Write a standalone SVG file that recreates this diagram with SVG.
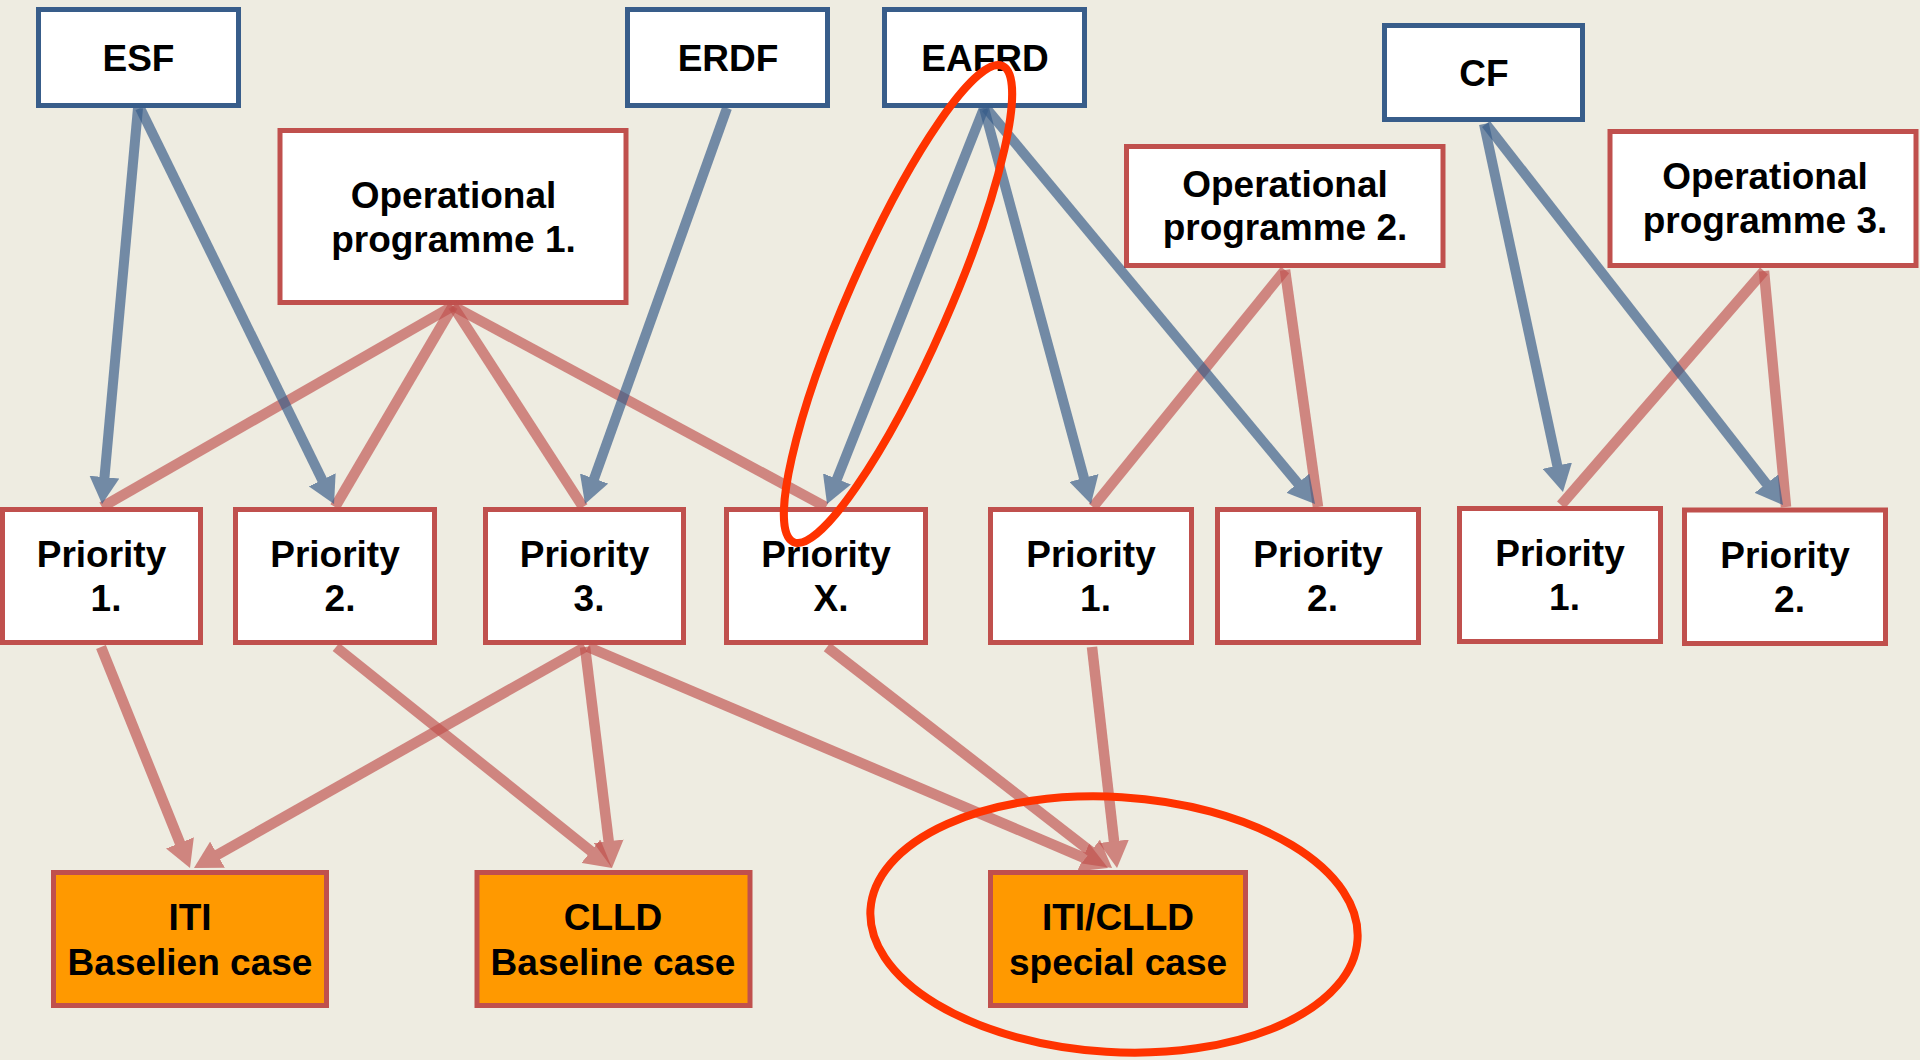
<svg xmlns="http://www.w3.org/2000/svg" width="1920" height="1060" viewBox="0 0 1920 1060">
<defs>
<style>
.fund{fill:#FFFFFF;stroke:#385D8A;stroke-width:5}
.op{fill:#FFFFFF;stroke:#C0504D;stroke-width:5}
.pri{fill:#FFFFFF;stroke:#C0504D;stroke-width:5}
.case{fill:#FF9900;stroke:#C0504D;stroke-width:5}
.t{font-family:"Liberation Sans",Arial,Helvetica,sans-serif;font-weight:bold;font-size:37px;fill:#000000;text-anchor:middle}
.blue{stroke:#385D8A;stroke-width:10;fill:none;opacity:0.68;marker-end:url(#ab)}
.red{stroke:#C0504D;stroke-width:10.5;fill:none;opacity:0.66}
.reda{stroke:#C0504D;stroke-width:10.5;fill:none;opacity:0.66;marker-end:url(#ar)}
.hl{fill:none;stroke:#FF3300;stroke-width:8}
</style>
<marker id="ab" viewBox="0 -15 27 30" refX="1" refY="0" markerUnits="userSpaceOnUse" markerWidth="27" markerHeight="30" orient="auto">
<path d="M0,-15 L27,0 L0,15 z" fill="#385D8A"/>
</marker>
<marker id="ar" viewBox="0 -15 27 30" refX="1" refY="0" markerUnits="userSpaceOnUse" markerWidth="27" markerHeight="30" orient="auto">
<path d="M0,-15 L27,0 L0,15 z" fill="#C0504D"/>
</marker>
</defs>
<rect x="0" y="0" width="1920" height="1060" fill="#EEECE1"/>

<g id="esf"><rect class="fund" x="38.5" y="9.5" width="200" height="96"/><text class="t" x="138.5" y="71">ESF</text></g>
<g id="erdf"><rect class="fund" x="627.5" y="9.5" width="200" height="96"/><text class="t" x="728" y="71">ERDF</text></g>
<g id="eafrd"><rect class="fund" x="884.5" y="9.5" width="200" height="96"/><text class="t" x="985" y="71">EAFRD</text></g>
<g id="cf"><rect class="fund" x="1384.5" y="25.5" width="198" height="94"/><text class="t" x="1484" y="86">CF</text></g>

<g id="op1"><rect class="op" x="280" y="130.5" width="346" height="172"/><text class="t" x="453.5" y="208">Operational</text><text class="t" x="453.5" y="252">programme 1.</text></g>
<g id="op2"><rect class="op" x="1126.5" y="146.5" width="316.5" height="119"/><text class="t" x="1285" y="197">Operational</text><text class="t" x="1285" y="240">programme 2.</text></g>
<g id="op3"><rect class="op" x="1610" y="131.5" width="306" height="134"/><text class="t" x="1765" y="189">Operational</text><text class="t" x="1765" y="233">programme 3.</text></g>

<g id="p1"><rect class="pri" x="2.5" y="509.5" width="198" height="133"/><text class="t" x="101.5" y="567">Priority</text><text class="t" x="106" y="611">1.</text></g>
<g id="p2"><rect class="pri" x="235.5" y="509.5" width="199" height="133"/><text class="t" x="335" y="567">Priority</text><text class="t" x="340" y="611">2.</text></g>
<g id="p3"><rect class="pri" x="485.5" y="509.5" width="198" height="133"/><text class="t" x="584.5" y="567">Priority</text><text class="t" x="589" y="611">3.</text></g>
<g id="px"><rect class="pri" x="726.5" y="509.5" width="199" height="133"/><text class="t" x="826" y="567">Priority</text><text class="t" x="831" y="611">X.</text></g>
<g id="p1b"><rect class="pri" x="990.5" y="509.5" width="201" height="133"/><text class="t" x="1091" y="567">Priority</text><text class="t" x="1095.5" y="611">1.</text></g>
<g id="p2b"><rect class="pri" x="1217.5" y="509.5" width="201" height="133"/><text class="t" x="1318" y="567">Priority</text><text class="t" x="1322.5" y="611">2.</text></g>
<g id="p1c"><rect class="pri" x="1459.5" y="508.5" width="201" height="133"/><text class="t" x="1560" y="566">Priority</text><text class="t" x="1564.5" y="610">1.</text></g>
<g id="p2c"><rect class="pri" x="1684.5" y="510" width="201" height="133.5"/><text class="t" x="1785" y="568">Priority</text><text class="t" x="1789.5" y="612">2.</text></g>

<g id="iti"><rect class="case" x="53.5" y="872.5" width="273" height="133"/><text class="t" x="190" y="930">ITI</text><text class="t" x="190" y="974.5">Baselien case</text></g>
<g id="clld"><rect class="case" x="477" y="872.5" width="273" height="133"/><text class="t" x="613" y="930">CLLD</text><text class="t" x="613" y="974.5">Baseline case</text></g>
<g id="iticlld"><rect class="case" x="990.5" y="872.5" width="255" height="133"/><text class="t" x="1118" y="930">ITI/CLLD</text><text class="t" x="1118" y="974.5">special case</text></g>

<g id="connectors">
<line class="red" x1="453" y1="306" x2="102" y2="507"/>
<line class="red" x1="453" y1="306" x2="335" y2="507"/>
<line class="red" x1="453" y1="306" x2="583" y2="507"/>
<line class="red" x1="453" y1="306" x2="826" y2="507"/>
<line class="red" x1="1285" y1="270" x2="1093" y2="507"/>
<line class="red" x1="1285" y1="270" x2="1318" y2="507"/>
<line class="red" x1="1764" y1="271" x2="1561" y2="505"/>
<line class="red" x1="1764" y1="271" x2="1786" y2="507"/>

<line class="blue" x1="138" y1="108" x2="104.4" y2="478.1"/>
<line class="blue" x1="140" y1="108" x2="322.6" y2="480.7"/>
<line class="blue" x1="727" y1="108" x2="593.8" y2="479.5"/>
<line class="blue" x1="984" y1="108" x2="836.6" y2="479.8"/>
<line class="blue" x1="984" y1="108" x2="1084.2" y2="478.9"/>
<line class="blue" x1="986" y1="108" x2="1298.4" y2="484"/>
<line class="blue" x1="1484" y1="124" x2="1557.5" y2="466.6"/>
<line class="blue" x1="1486" y1="124" x2="1767" y2="484.5"/>

<line class="reda" x1="101" y1="647" x2="180.3" y2="843.9"/>
<line class="reda" x1="336" y1="647" x2="591.7" y2="851.75"/>
<line class="reda" x1="585" y1="647" x2="216.6" y2="855.2"/>
<line class="reda" x1="585" y1="647" x2="608.8" y2="842.2"/>
<line class="reda" x1="588" y1="647" x2="1084.1" y2="857.8"/>
<line class="reda" x1="827" y1="647" x2="1091.5" y2="852.1"/>
<line class="reda" x1="1092" y1="647" x2="1114.1" y2="842.2"/>
</g>

<g id="highlights">
<ellipse class="hl" cx="898" cy="304" rx="50" ry="260" transform="rotate(23.7 898 304)"/>
<ellipse class="hl" cx="1114" cy="924.5" rx="244" ry="127.5" transform="rotate(3.5 1114 924.5)"/>
</g>
</svg>
